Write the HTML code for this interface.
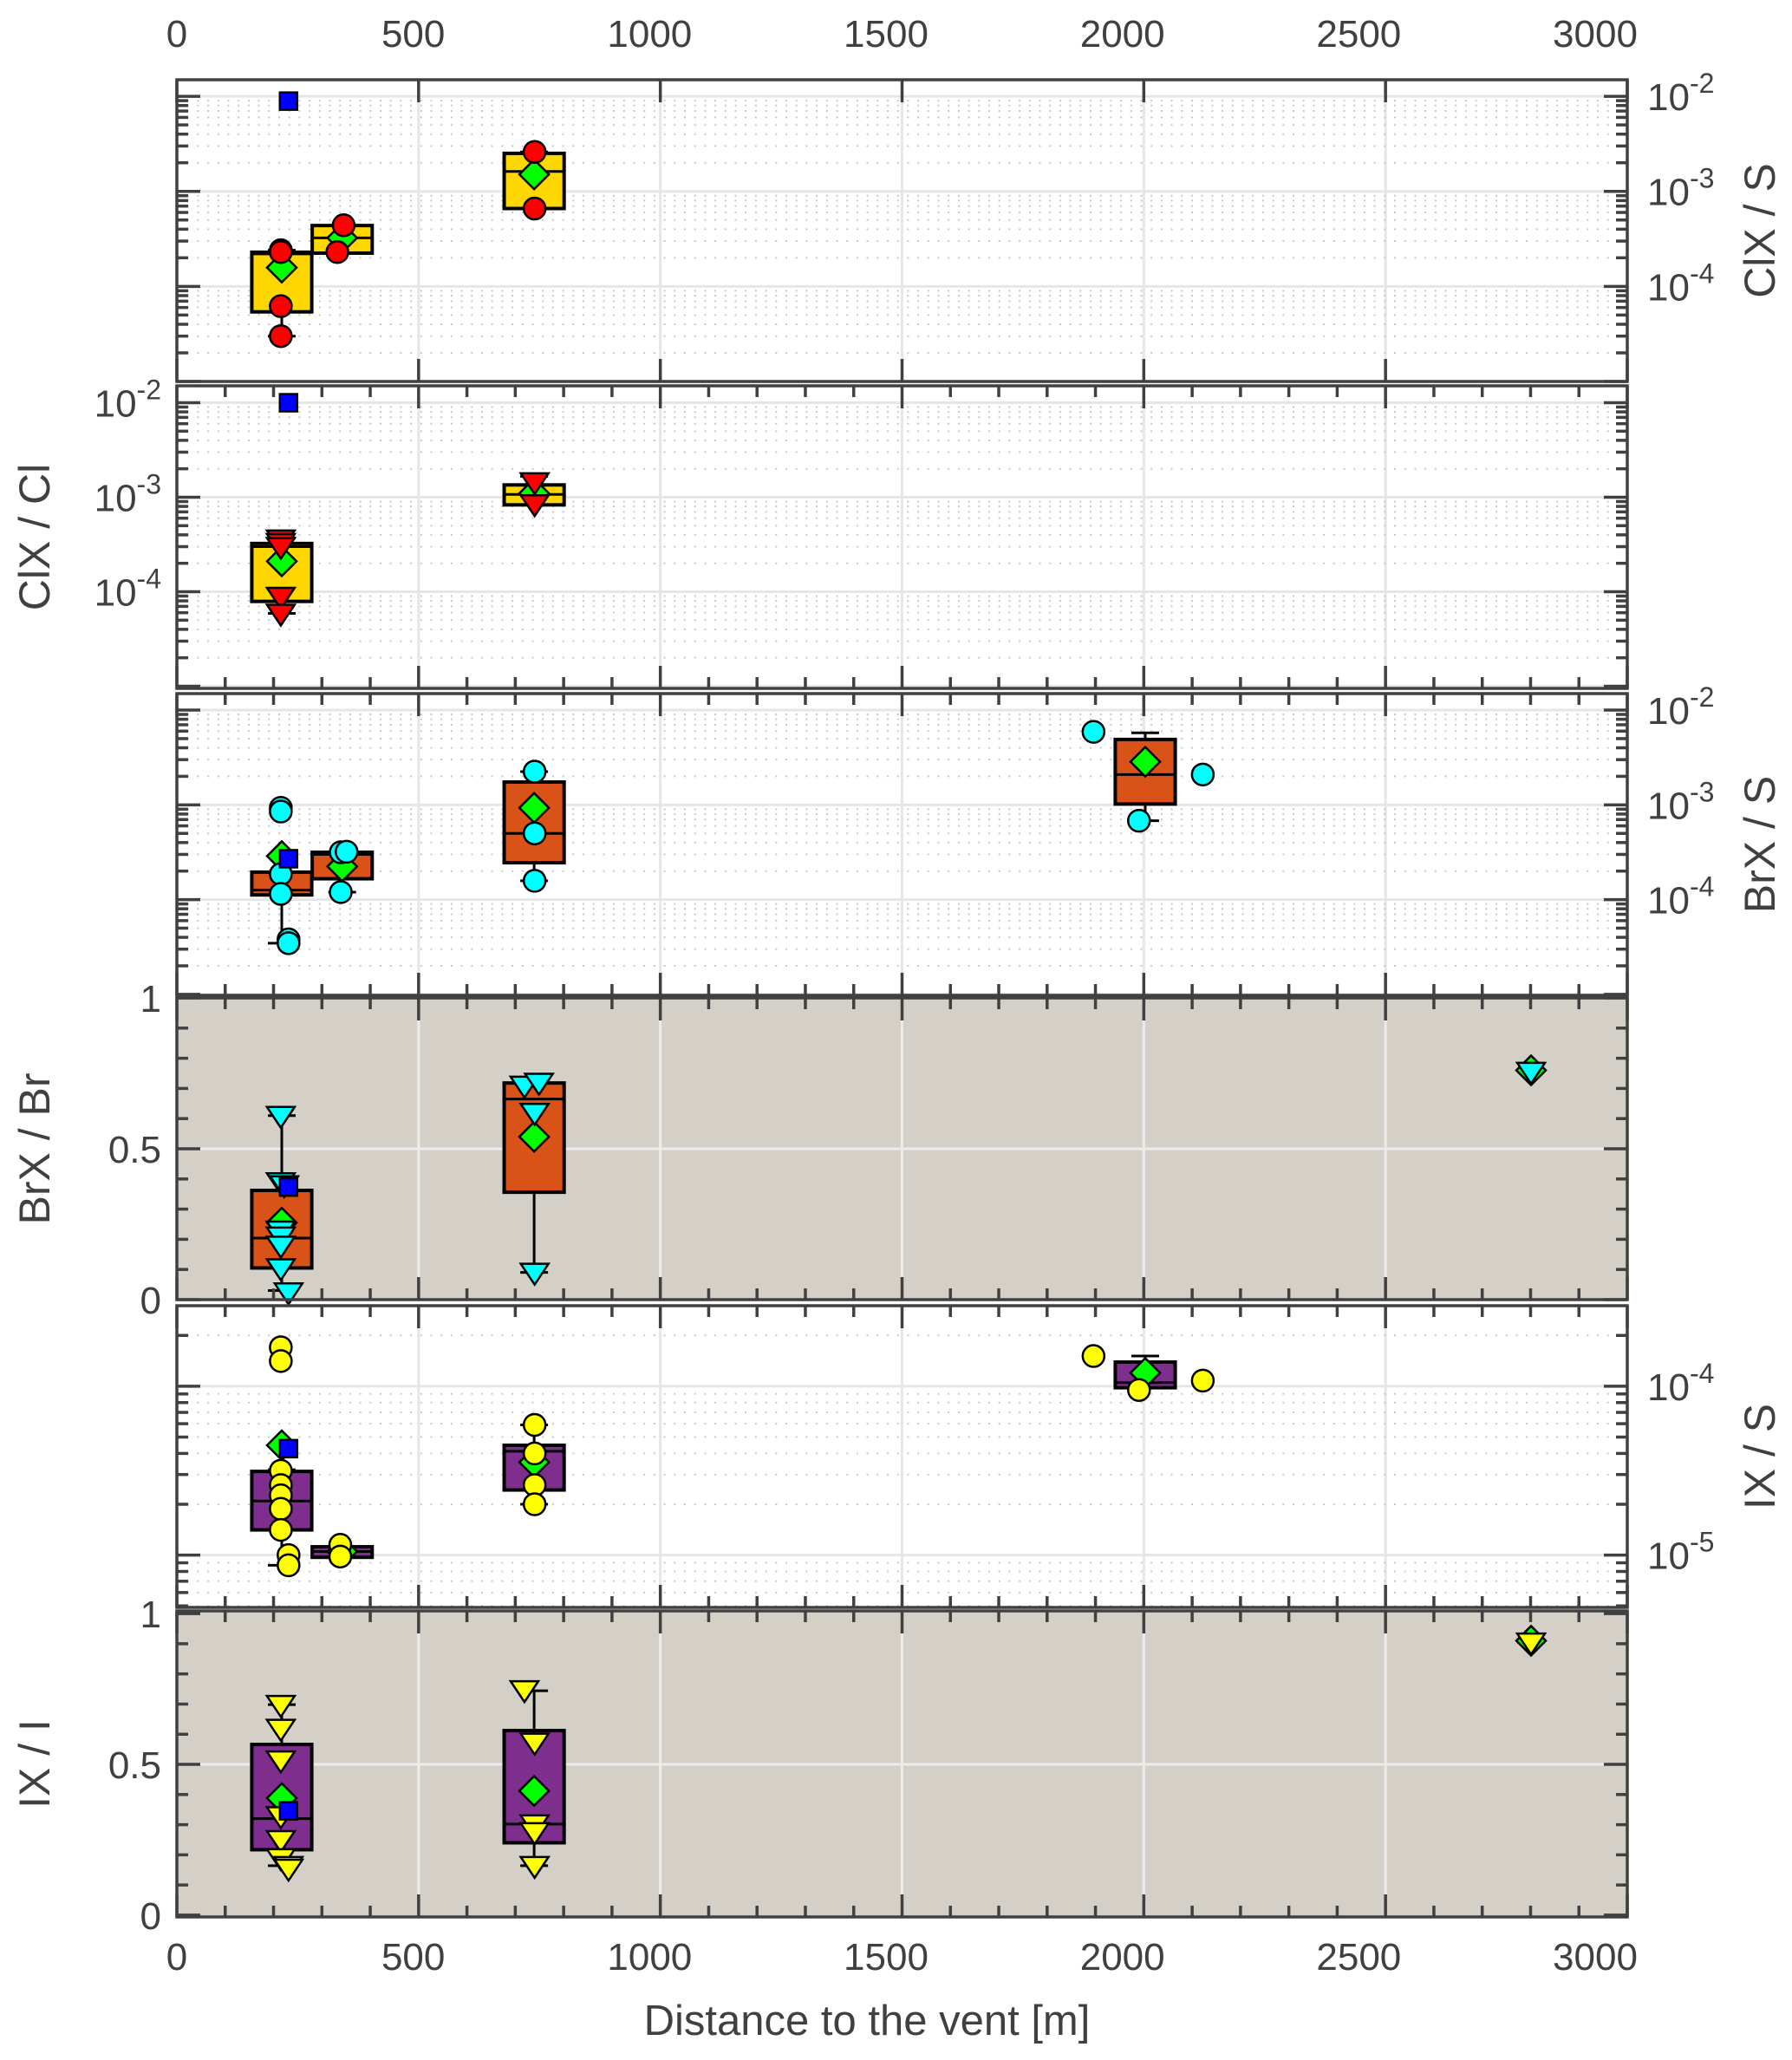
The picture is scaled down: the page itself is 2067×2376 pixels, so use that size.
<!DOCTYPE html>
<html><head><meta charset="utf-8"><style>
html,body{margin:0;padding:0;background:#fff}
svg{display:block}
text{font-family:"Liberation Sans",Arial,sans-serif;fill:#404040}
</style></head><body>
<svg id="chart" xmlns="http://www.w3.org/2000/svg" width="2067" height="2376" viewBox="0 0 2067 2376"></svg>
<script>
// ---------- data ----------
const xTickValues = [0, 500, 1000, 1500, 2000, 2500, 3000];
const xTickLabels = ["0", "500", "1000", "1500", "2000", "2500", "3000"];

// Panel 1: ClX / S
const p1BoxX = [217, 342, 739];
const p1Q3 = [2.29e-4, 4.37e-4, 2.51e-3];
const p1Med = [2.2e-4, 3.24e-4, 1.62e-3];
const p1Q1 = [5.4e-5, 2.24e-4, 6.6e-4];
const p1WHi = [2.4e-4, 4.37e-4, 2.6e-3];
const p1WLo = [3.0e-5, 2.24e-4, 6.6e-4];
const p1PtX = [215, 215, 215, 215, 345, 332, 740, 740];
const p1PtY = [2.4e-4, 2.3e-4, 6.2e-5, 3.0e-5, 4.4e-4, 2.3e-4, 2.6e-3, 6.6e-4];
const p1MeanX = [217, 342, 739];
const p1MeanY = [1.58e-4, 3.24e-4, 1.51e-3];
const p1SqX = [231];
const p1SqY = [8.9e-3];

// Panel 2: ClX / Cl
const p2BoxX = [217, 739];
const p2Q3 = [3.24e-4, 1.35e-3];
const p2Med = [3.0e-4, 1.07e-3];
const p2Q1 = [7.9e-5, 8.3e-4];
const p2WHi = [3.7e-4, 1.66e-3];
const p2WLo = [5.9e-5, 8.3e-4];
const p2PtX = [215, 215, 215, 215, 215, 740, 740];
const p2PtY = [3.6e-4, 3.3e-4, 3.0e-4, 8.9e-5, 5.9e-5, 1.45e-3, 8.5e-4];
const p2MeanX = [217, 739];
const p2MeanY = [2.1e-4, 1.1e-3];
const p2SqX = [231];
const p2SqY = [1.0e-2];

// Panel 3: BrX / S
const p3BoxX = [217, 342, 739, 2003];
const p3Q3 = [1.95e-4, 3.16e-4, 1.74e-3, 4.9e-3];
const p3Med = [1.26e-4, 3.0e-4, 5.0e-4, 2.09e-3];
const p3Q1 = [1.12e-4, 1.66e-4, 2.45e-4, 1.02e-3];
const p3WHi = [1.95e-4, 3.16e-4, 2.24e-3, 5.75e-3];
const p3WLo = [3.47e-5, 1.2e-4, 1.58e-4, 6.8e-4];
const p3PtX = [215, 215, 215, 215, 231, 231, 339, 351, 339, 740, 740, 740, 1896, 2122, 1990];
const p3PtY = [9.3e-4, 8.5e-4, 1.86e-4, 1.15e-4, 3.8e-5, 3.47e-5, 3.16e-4, 3.2e-4, 1.2e-4, 2.24e-3, 5.0e-4, 1.58e-4, 5.9e-3, 2.09e-3, 6.8e-4];
const p3MeanX = [217, 342, 739, 2003];
const p3MeanY = [2.88e-4, 2.24e-4, 9.3e-4, 2.85e-3];
const p3SqX = [231];
const p3SqY = [2.7e-4];

// Panel 4: BrX / Br
const p4BoxX = [217, 739, 2801];
const p4Q3 = [0.362, 0.718, 0.756];
const p4Med = [0.204, 0.665, 0.756];
const p4Q1 = [0.105, 0.356, 0.756];
const p4WHi = [0.61, 0.72, 0.756];
const p4WLo = [0.03, 0.09, 0.756];
const p4PtX = [215, 215, 222, 215, 215, 215, 215, 231, 719, 749, 740, 740, 2801];
const p4PtY = [0.61, 0.39, 0.38, 0.23, 0.21, 0.18, 0.105, 0.025, 0.71, 0.72, 0.62, 0.09, 0.756];
const p4MeanX = [217, 739, 2801];
const p4MeanY = [0.255, 0.54, 0.76];
const p4SqX = [231];
const p4SqY = [0.373];

// Panel 5: IX / S
const p5BoxX = [217, 342, 739, 2003];
const p5Q3 = [3.13e-5, 1.12e-5, 4.47e-5, 1.39e-4];
const p5Med = [2.09e-5, 1.05e-5, 4.12e-5, 1.05e-4];
const p5Q1 = [1.41e-5, 9.7e-6, 2.43e-5, 9.8e-5];
const p5WHi = [3.2e-5, 1.12e-5, 5.9e-5, 1.51e-4];
const p5WLo = [8.7e-6, 9.7e-6, 2.0e-5, 9.8e-5];
const p5PtX = [215, 215, 215, 215, 215, 215, 215, 231, 231, 338, 338, 740, 740, 740, 740, 1896, 1990, 2122];
const p5PtY = [1.7e-4, 1.41e-4, 3.16e-5, 2.6e-5, 2.26e-5, 1.88e-5, 1.41e-5, 1.0e-5, 8.7e-6, 1.15e-5, 9.8e-6, 5.9e-5, 4.0e-5, 2.6e-5, 2.0e-5, 1.51e-4, 9.5e-5, 1.08e-4];
const p5MeanX = [217, 342, 739, 2003];
const p5MeanY = [4.47e-5, 1.05e-5, 3.55e-5, 1.2e-4];
const p5SqX = [231];
const p5SqY = [4.27e-5];

// Panel 6: IX / I
const p6BoxX = [217, 739, 2801];
const p6Q3 = [0.566, 0.612, 0.905];
const p6Med = [0.32, 0.302, 0.905];
const p6Q1 = [0.217, 0.24, 0.905];
const p6WHi = [0.698, 0.744, 0.905];
const p6WLo = [0.164, 0.164, 0.905];
const p6PtX = [215, 215, 215, 215, 215, 215, 231, 231, 719, 740, 740, 740, 740, 2801];
const p6PtY = [0.698, 0.619, 0.514, 0.329, 0.25, 0.19, 0.164, 0.155, 0.747, 0.573, 0.302, 0.276, 0.164, 0.905];
const p6MeanX = [217, 739, 2801];
const p6MeanY = [0.388, 0.412, 0.91];
const p6SqX = [231];
const p6SqY = [0.346];

// ---------- layout ----------
const NS = "http://www.w3.org/2000/svg";
const svg = document.getElementById("chart");
const X0 = 204, X1 = 1877, XMAX = 3000, XLAB1 = 1840;
function sx(v) { return X0 + v / XMAX * (X1 - X0); }
function lx(v) { return X0 + v / XMAX * (XLAB1 - X0); }
function mk(tag, attrs, parent) {
  const e = document.createElementNS(NS, tag);
  for (const k in attrs) e.setAttribute(k, attrs[k]);
  (parent || svg).appendChild(e);
  return e;
}

const panels = [
  {name:"clx-s", top:92, bot:440, log:true, lo:-5.0, hi:-1.826, side:"right", title:"ClX / S", box:"#FFD700", pt:"circle", pc:"#FF0000", minorX:false,
   bx:p1BoxX, q3:p1Q3, med:p1Med, q1:p1Q1, wh:p1WHi, wl:p1WLo, px:p1PtX, py:p1PtY, mx:p1MeanX, my:p1MeanY, qx:p1SqX, qy:p1SqY, dec:[-2,-3,-4]},
  {name:"clx-cl", top:445, bot:794, log:true, lo:-5.023, hi:-1.821, side:"left", title:"ClX / Cl", box:"#FFD700", pt:"tri", pc:"#FF0000", minorX:true,
   bx:p2BoxX, q3:p2Q3, med:p2Med, q1:p2Q1, wh:p2WHi, wl:p2WLo, px:p2PtX, py:p2PtY, mx:p2MeanX, my:p2MeanY, qx:p2SqX, qy:p2SqY, dec:[-2,-3,-4]},
  {name:"brx-s", top:800, bot:1148, log:true, lo:-5.01, hi:-1.826, side:"right", title:"BrX / S", box:"#D95319", pt:"circle", pc:"#00FFFF", minorX:true,
   bx:p3BoxX, q3:p3Q3, med:p3Med, q1:p3Q1, wh:p3WHi, wl:p3WLo, px:p3PtX, py:p3PtY, mx:p3MeanX, my:p3MeanY, qx:p3SqX, qy:p3SqY, dec:[-2,-3,-4]},
  {name:"brx-br", top:1151, bot:1499, log:false, lo:0, hi:1, side:"left", title:"BrX / Br", box:"#D95319", pt:"tri", pc:"#00FFFF", minorX:true,
   bx:p4BoxX, q3:p4Q3, med:p4Med, q1:p4Q1, wh:p4WHi, wl:p4WLo, px:p4PtX, py:p4PtY, mx:p4MeanX, my:p4MeanY, qx:p4SqX, qy:p4SqY},
  {name:"ix-s", top:1506, bot:1854, log:true, lo:-5.31, hi:-3.523, side:"right", title:"IX / S", box:"#7E2F8E", pt:"circle", pc:"#FFFF00", minorX:true,
   bx:p5BoxX, q3:p5Q3, med:p5Med, q1:p5Q1, wh:p5WHi, wl:p5WLo, px:p5PtX, py:p5PtY, mx:p5MeanX, my:p5MeanY, qx:p5SqX, qy:p5SqY, dec:[-4,-5]},
  {name:"ix-i", top:1858, bot:2211, log:false, lo:-0.006, hi:1.009, side:"left", title:"IX / I", box:"#7E2F8E", pt:"tri", pc:"#FFFF00", minorX:true,
   bx:p6BoxX, q3:p6Q3, med:p6Med, q1:p6Q1, wh:p6WHi, wl:p6WLo, px:p6PtX, py:p6PtY, mx:p6MeanX, my:p6MeanY, qx:p6SqX, qy:p6SqY}
];

const BOXW = 124, CAP = 16;

panels.forEach(function (P) {
  const g = mk("g", {});
  
  
  function sy(v) {
    const t = P.log ? Math.log10(v) : v;
    return P.bot - (t - P.lo) / (P.hi - P.lo) * (P.bot - P.top);
  }
  const bg = mk("rect", {x:X0, y:P.top, width:X1 - X0, height:P.bot - P.top, fill:P.log ? "#ffffff" : "#D4D0C8"}, g);
  
  
  const gridCol = P.log ? "#e6e6e6" : "#ececec";
  xTickValues.forEach(function (v) {
    if (v === 0 || v === 3000) return;
    const l = mk("line", {x1:sx(v), x2:sx(v), y1:P.top, y2:P.bot, stroke:gridCol, "stroke-width":3}, g);
    
    
  });
  const yMajor = [], yMinor = [];
  if (P.log) {
    for (let d = Math.floor(P.lo); d <= Math.ceil(P.hi); d++) {
      if (d >= P.lo && d <= P.hi) yMajor.push(Math.pow(10, d));
      for (let m = 2; m <= 9; m++) {
        const lv = d + Math.log10(m);
        if (lv > P.lo && lv < P.hi) yMinor.push(m * Math.pow(10, d));
      }
    }
  } else {
    [0, 0.5, 1].forEach(function (v) { if (v >= P.lo && v <= P.hi) yMajor.push(v); });
    [0.1,0.2,0.3,0.4,0.6,0.7,0.8,0.9].forEach(function (v) { yMinor.push(v); });
  }
  if (P.log) {
    yMinor.forEach(function (v) {
      const l = mk("line", {x1:X0, x2:X1, y1:sy(v), y2:sy(v), stroke:"#c8c8c8", "stroke-width":2, "stroke-dasharray":"2 9.7"}, g);
      
      
    });
  }
  yMajor.forEach(function (v) {
    if (!P.log && (v === 0 || v === 1)) return;
    const l = mk("line", {x1:X0, x2:X1, y1:sy(v), y2:sy(v), stroke:gridCol, "stroke-width":3}, g);
    
    
  });
  for (let i = 0; i < P.bx.length; i++) {
    const cx = sx(P.bx[i]), hw = sx(BOXW / 2) - sx(0);
    const cw = CAP;
    const w1 = mk("line", {x1:cx, x2:cx, y1:sy(P.wh[i]), y2:sy(P.q3[i]), stroke:"#000", "stroke-width":3}, g);
    
    
    const w2 = mk("line", {x1:cx, x2:cx, y1:sy(P.q1[i]), y2:sy(P.wl[i]), stroke:"#000", "stroke-width":3}, g);
    
    
    const c1 = mk("line", {x1:cx - cw, x2:cx + cw, y1:sy(P.wh[i]), y2:sy(P.wh[i]), stroke:"#000", "stroke-width":3}, g);
    
    
    const c2 = mk("line", {x1:cx - cw, x2:cx + cw, y1:sy(P.wl[i]), y2:sy(P.wl[i]), stroke:"#000", "stroke-width":3}, g);
    
    
    const yt = sy(P.q3[i]), yb = sy(P.q1[i]);
    if (yb - yt > 1) {
      const r = mk("rect", {x:cx - hw, y:yt, width:2 * hw, height:yb - yt, fill:P.box, stroke:"#000", "stroke-width":4}, g);
      
      
      const m = mk("line", {x1:cx - hw, x2:cx + hw, y1:sy(P.med[i]), y2:sy(P.med[i]), stroke:"#000", "stroke-width":3}, g);
      
      
    }
  }
  for (let i = 0; i < P.mx.length; i++) {
    const x = sx(P.mx[i]), y = sy(P.my[i]), s = 17;
    const d = mk("polygon", {points:[x, y - s, x + s, y, x, y + s, x - s, y].join(" "), fill:"#00FF00", stroke:"#000", "stroke-width":2.5}, g);
    
    
  }
  for (let i = 0; i < P.px.length; i++) {
    const x = sx(P.px[i]), y = sy(P.py[i]);
    let e;
    if (P.pt === "circle") {
      e = mk("circle", {cx:x, cy:y, r:12.5, fill:P.pc, stroke:"#000", "stroke-width":2.5}, g);
    } else {
      e = mk("polygon", {points:[x - 16, y - 10, x + 16, y - 10, x, y + 14].join(" "), fill:P.pc, stroke:"#000", "stroke-width":2.5}, g);
    }
    
    
  }
  for (let i = 0; i < P.qx.length; i++) {
    const x = sx(P.qx[i]), y = sy(P.qy[i]);
    const q = mk("rect", {x:x - 10, y:y - 10, width:20, height:20, fill:"#0000FF", stroke:"#000", "stroke-width":2.5}, g);
    
    
  }
  for (let v = 0; v <= 3000; v += 100) {
    const major = v % 500 === 0;
    if (!major && !P.minorX) continue;
    const len = major ? 26 : 13;
    const t1 = mk("line", {x1:sx(v), x2:sx(v), y1:P.top, y2:P.top + len, stroke:"#404040", "stroke-width":3.5}, g);
    
    
    const t2 = mk("line", {x1:sx(v), x2:sx(v), y1:P.bot, y2:P.bot - len, stroke:"#404040", "stroke-width":3.5}, g);
    
    
  }
  yMajor.concat(yMinor).forEach(function (v, idx) {
    const len = idx < yMajor.length ? 27 : 13;
    const y = sy(v);
    const a = mk("line", {x1:X0, x2:X0 + len, y1:y, y2:y, stroke:"#404040", "stroke-width":3.5}, g);
    
    
    const b = mk("line", {x1:X1, x2:X1 - len, y1:y, y2:y, stroke:"#404040", "stroke-width":3.5}, g);
    
    
  });
  const fr = mk("rect", {x:X0, y:P.top, width:X1 - X0, height:P.bot - P.top, fill:"none", stroke:"#404040", "stroke-width":3.5}, g);
  
  
  if (P.log) {
    P.dec.forEach(function (d) {
      const y = sy(Math.pow(10, d));
      let t;
      if (P.side === "right") {
        t = mk("text", {x:1900, y:y + 16, "font-size":44}, g);
      } else {
        t = mk("text", {x:186, y:y + 16, "font-size":44, "text-anchor":"end"}, g);
      }
      
      
      const s1 = mk("tspan", {}, t); s1.textContent = "10";
      const s2 = mk("tspan", {dy:-20, "font-size":32}, t); s2.textContent = String(d);
    });
  } else {
    [[0, "0"], [0.5, "0.5"], [1, "1"]].forEach(function (pr) {
      const t = mk("text", {x:186, y:sy(pr[0]) + 16, "font-size":44, "text-anchor":"end"}, g);
      
      
      t.textContent = pr[1];
    });
  }
  const cy = (P.top + P.bot) / 2;
  const tx = P.side === "right" ? 2030 : 40;
  const tt = mk("text", {x:tx, y:cy, "font-size":50, "text-anchor":"middle", "dominant-baseline":"central", transform:"rotate(-90 " + tx + " " + cy + ")"}, g);
  
  
  tt.textContent = P.title;
});

xTickValues.forEach(function (v, i) {
  const a = mk("text", {x:lx(v), y:54, "font-size":44, "text-anchor":"middle"});
  
  
  a.textContent = xTickLabels[i];
  const b = mk("text", {x:lx(v), y:2272, "font-size":44, "text-anchor":"middle"});
  
  
  b.textContent = xTickLabels[i];
});
const xt = mk("text", {x:1000, y:2347, "font-size":49, "text-anchor":"middle"});


xt.textContent = "Distance to the vent [m]";
</script>
</body></html>
